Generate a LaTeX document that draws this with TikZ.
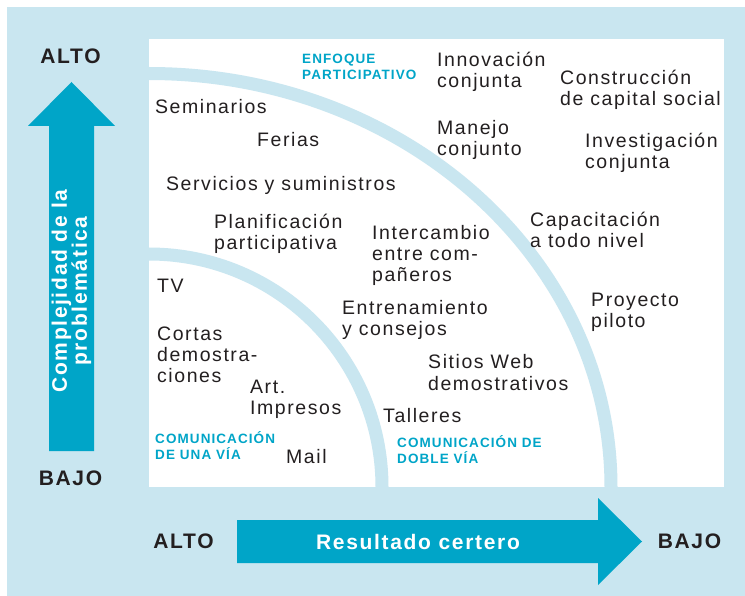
\documentclass[tikz,border=0pt]{standalone}
\usepackage{fontspec}
\setmainfont{Liberation Sans}[LetterSpace=8]
\definecolor{bgblue}{RGB}{201,230,240}
\definecolor{arrowblue}{RGB}{0,165,200}
\definecolor{ink}{RGB}{35,31,32}
\begin{document}
\begin{tikzpicture}[x=1pt,y=-1pt,
  body/.style={anchor=base west, inner sep=0pt, align=left, text=ink, font=\fontsize{19.5}{21}\selectfont},
  tag/.style={anchor=base west, inner sep=0pt, align=left, text=arrowblue, font=\bfseries\fontsize{13.5}{16}\selectfont},
  axislabel/.style={inner sep=0pt, text=ink, font=\bfseries\fontsize{21}{21}\selectfont},
  arrowtext/.style={inner sep=0pt, text=white, align=center, font=\bfseries\fontsize{21}{20}\selectfont},
  band/.style={draw=bgblue, line width=13pt}]
\useasboundingbox (0,0) rectangle (745,596);
\fill[bgblue] (7,7) rectangle (745,596);
\fill[white] (149,39) rectangle (724,487);
\begin{scope}
  \clip (149,39) rectangle (724,487);
  \draw[band] (149,487) ellipse [x radius=462, y radius=413.5];
  \draw[band] (149,487) circle [radius=233];
\end{scope}
% arrows
\fill[arrowblue] (49,451) -- (49,126) -- (28,126) -- (71.5,82) -- (115,126) -- (94,126) -- (94,451) -- cycle;
\fill[arrowblue] (237,520) -- (598,520) -- (598,498) -- (642,541.5) -- (598,585) -- (598,563) -- (237,563) -- cycle;
% axis labels
\node[axislabel] (altoV) at (70.5,56) {ALTO};
\node[axislabel] (bajoV) at (70.5,478) {BAJO};
\node[axislabel] (altoH) at (183.5,541.5) {ALTO};
\node[axislabel] (bajoH) at (689.5,541.5) {BAJO};
\node[arrowtext] (res) at (418,541.5) {Resultado certero};
\node[arrowtext, rotate=90] (comp) at (71.5,291) {Complejidad de la\\problemática};
% body texts (anchor = baseline of the last line)
\node[body] (sem) at (155,114) {Seminarios};
\node[body] (fer) at (257,147) {Ferias};
\node[body] (serv) at (166,191) {Servicios y suministros};
\node[body] (plan) at (214,250) {Planificación\\participativa};
\node[body] (inter) at (372,282) {Intercambio\\entre com-\\pañeros};
\node[body] (tv) at (157,293) {TV};
\node[body] (cort) at (157,382) {Cortas\\demostra-\\ciones};
\node[body] (art) at (250,414) {Art.\\Impresos};
\node[body] (mail) at (286,463) {Mail};
\node[body] (entr) at (342,336) {Entrenamiento\\y consejos};
\node[body] (tall) at (383,422) {Talleres};
\node[body] (web) at (428,390) {Sitios Web\\demostrativos};
\node[body] (inno) at (437,88) {Innovación\\conjunta};
\node[body] (cons) at (560,106) {Construcción\\de capital social};
\node[body] (man) at (437,156) {Manejo\\conjunto};
\node[body] (inv) at (585,169) {Investigación\\conjunta};
\node[body] (cap) at (530,248) {Capacitación\\a todo nivel};
\node[body] (proy) at (591,328) {Proyecto\\piloto};
% tags
\node[tag] (enf) at (302,80) {ENFOQUE\\PARTICIPATIVO};
\node[tag] (c1) at (155,459) {COMUNICACIÓN\\DE UNA VÍA};
\node[tag] (c2) at (397,463) {COMUNICACIÓN DE\\DOBLE VÍA};
\end{tikzpicture}
\end{document}
